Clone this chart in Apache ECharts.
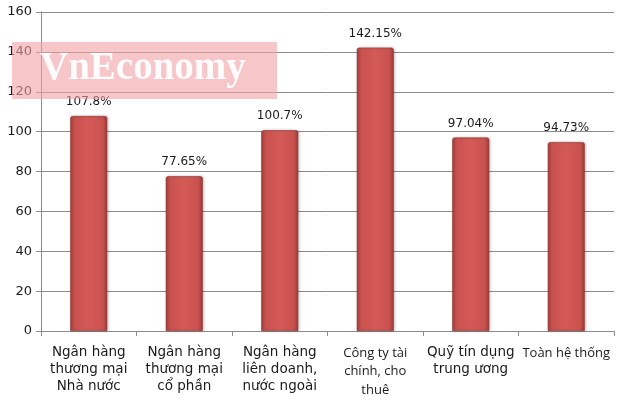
<!DOCTYPE html>
<html><head><meta charset="utf-8">
<script src="https://cdn.jsdelivr.net/npm/echarts@6/dist/echarts.min.js"></script>
<style>html,body{margin:0;padding:0;background:#fff}#c{width:620px;height:407px}</style>
</head><body><div id="c"></div>
<script>
const categories = [
  "Ngân hàng\nthương mại\nNhà nước",
  "Ngân hàng\nthương mại\ncổ phần",
  "Ngân hàng\nliên doanh,\nnước ngoài",
  "Công ty tài\nchính, cho\nthuê",
  "Quỹ tín dụng\ntrung ương",
  "Toàn hệ thống"
];
const smallLabel = [false, false, false, true, false, true];
const values = [107.8, 77.65, 100.7, 142.15, 97.04, 94.73];
const valueLabels = ["107.8%", "77.65%", "100.7%", "142.15%", "97.04%", "94.73%"];
const yTicks = [0, 20, 40, 60, 80, 100, 120, 140, 160];

const chart = echarts.init(document.getElementById('c'), null, {renderer: 'canvas'});
const barColor = {
  type: 'linear', x: 0, y: 0, x2: 1, y2: 0,
  colorStops: [
    {offset: 0, color: '#a8403d'},
    {offset: 0.12, color: '#c9524f'},
    {offset: 0.5, color: '#d45a56'},
    {offset: 0.88, color: '#c9524f'},
    {offset: 1, color: '#9a3a37'}
  ]
};
chart.setOption({
  animation: false,
  grid: {left: 41, right: 6, top: 12, bottom: 76, containLabel: false},
  xAxis: {
    type: 'category',
    data: categories.map((c, i) => (smallLabel[i] ? '{s|' : '{b|') + c.split('\n').join(smallLabel[i] ? '}\n{s|' : '}\n{b|') + '}'),
    axisLine: {lineStyle: {color: '#8c8c8c', width: 1}},
    axisTick: {show: true, length: 5, lineStyle: {color: '#8c8c8c'}},
    axisLabel: {
      interval: 0, margin: 13, color: '#1a1a1a', align: 'center',
      rich: {
        b: {fontFamily: 'DejaVu Sans', fontSize: 13.5, lineHeight: 17, color: '#1a1a1a'},
        s: {fontFamily: 'Open Sans', fontSize: 13, lineHeight: 18.5, color: '#1a1a1a'}
      }
    }
  },
  yAxis: {
    type: 'value', min: 0, max: 160, interval: 20,
    axisLine: {show: true, lineStyle: {color: '#8c8c8c'}},
    axisTick: {show: true, length: 5, lineStyle: {color: '#8c8c8c'}},
    splitLine: {lineStyle: {color: '#8c8c8c', width: 1}},
    axisLabel: {
      color: '#1a1a1a', fontFamily: 'DejaVu Sans', fontSize: 13, margin: 9,
      formatter: v => yTicks.includes(v) ? String(v) : ''
    }
  },
  graphic: [
    {type: 'rect', left: 12, top: 42, z: 10, shape: {width: 265, height: 57},
     style: {fill: 'rgba(242,160,165,0.6)'}},
    {type: 'text', left: 40, top: 49, z: 11,
     style: {text: 'VnEconomy', fill: '#ffffff', font: 'bold 39px "Liberation Serif", serif', opacity: 0.95}}
  ],
  series: [{
    type: 'bar', data: values, barWidth: 37,
    itemStyle: {color: barColor, borderColor: '#8e3532', borderWidth: 0.6, borderRadius: [2, 2, 0, 0],
      shadowColor: 'rgba(0,0,0,0.25)', shadowBlur: 3, shadowOffsetX: 1},
    label: {
      show: true, position: 'top', distance: 8, color: '#1a1a1a',
      fontFamily: 'DejaVu Sans', fontSize: 12,
      formatter: p => valueLabels[p.dataIndex]
    }
  }]
});
</script></body></html>
